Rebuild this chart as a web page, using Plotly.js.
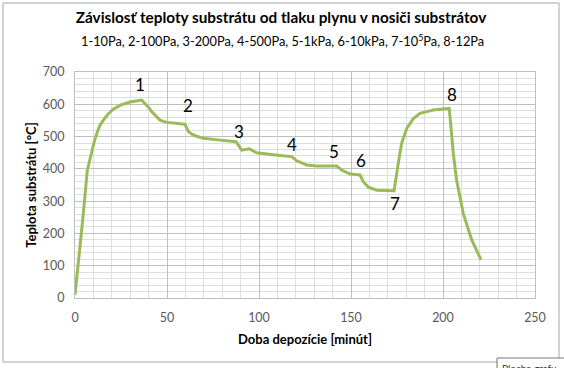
<!DOCTYPE html>
<html>
<head>
<meta charset="utf-8">
<script src="https://cdn.plot.ly/plotly-3.0.1.min.js"></script>
<style>
html,body{margin:0;padding:0;background:#fff;}
#chart{width:564px;height:368px;}
</style>
</head>
<body>
<div id="chart"></div>
<script>
// Time of deposition [minutes]
const time = [0, 2.7, 4.2, 6.7, 8, 9, 10.5, 12, 13.6, 15.4, 18, 20.8, 25, 29.9, 36.2, 39.8, 41.7, 46.2, 49.8, 55, 59.8,
  61.6, 64, 66.1, 69.7, 78.8, 87.5, 90.6, 94.7, 98.7, 102.3, 110, 117.8, 120.5, 125.9, 131.3, 142.2,
  145, 149.5, 154.9, 156.7, 159.4, 164, 173.4, 175.7, 177.5, 180.3, 183.9, 187.5, 194.7, 203.4,
  205.6, 207.4, 211, 215.6, 220.7];
// Substrate temperature [°C]
const temp = [10, 150, 242, 396, 428, 452, 485, 512, 535, 551, 570, 585, 598, 607, 613, 592, 577, 551, 544, 541, 538,
  516, 506, 501, 495, 489, 484, 458, 462, 450, 447, 442, 438, 425, 412, 409, 409,
  396, 384, 381, 360, 343, 334, 332, 417, 479, 525, 556, 572, 582, 587,
  448, 365, 262, 180, 118];
// Pressure step markers
const labelText = ["1", "2", "3", "4", "5", "6", "7", "8"];
const labelX = [35.3, 61.4, 89, 118, 141, 155.4, 174, 205];
const labelY = [660, 595, 517, 474, 455, 427, 294, 629];

const titleText = "Závislosť teploty substrátu od tlaku plynu v nosiči substrátov";
const subtitleText = "1-10Pa, 2-100Pa, 3-200Pa, 4-500Pa, 5-1kPa, 6-10kPa, 7-10<sup>5</sup>Pa, 8-12Pa";
const xTitle = "Doba depozície [minút]";
const yTitle = "Teplota substrátu [°C]";

const FONT = "Lato, 'Open Sans', sans-serif";

const annotations = labelText.map((t, i) => ({
  x: labelX[i], y: labelY[i], xref: 'x', yref: 'y', text: t, showarrow: false,
  xanchor: 'center', yanchor: 'middle',
  font: {family: FONT, size: 17, color: '#000'}
}));
annotations.push({
  xref: 'paper', yref: 'paper', x: (282 - 75) / 460, y: (298 - 41) / 226,
  xanchor: 'center', yanchor: 'middle',
  text: subtitleText, showarrow: false, font: {family: FONT, size: 12.8, color: '#000'}
});
annotations.push({
  xref: 'paper', yref: 'paper', x: (500 - 75) / 460, y: (298 - 360) / 226, xanchor: 'left', yanchor: 'top',
  text: 'Plocha grafu', showarrow: false, font: {family: FONT, size: 10, color: '#333'}
});

const shapes = [
  {type: 'rect', xref: 'paper', yref: 'paper',
   x0: (3 - 75) / 460, x1: (559 - 75) / 460, y0: (298 - 362) / 226, y1: (298 - 3) / 226,
   line: {color: '#a6a6a6', width: 1}, fillcolor: 'rgba(0,0,0,0)', layer: 'below'},
  {type: 'rect', xref: 'paper', yref: 'paper',
   x0: (497 - 75) / 460, x1: (600 - 75) / 460, y0: (298 - 380) / 226, y1: (298 - 358) / 226,
   line: {color: '#767676', width: 1}, fillcolor: '#ffffff'}
];

const data = [{
  x: time, y: temp, type: 'scatter', mode: 'lines',
  line: {color: '#9bbb59', width: 3},
  hoverinfo: 'skip'
}];

const gridMajor = '#bfbfbf';
const gridMinor = '#dedede';

const layout = {
  width: 564, height: 368,
  margin: {l: 75, r: 29, t: 72, b: 70},
  paper_bgcolor: '#fff', plot_bgcolor: '#fff',
  showlegend: false,
  font: {family: FONT, color: '#595959'},
  title: {
    text: '<b>' + titleText + '</b>',
    xref: 'container', yref: 'container', x: 281 / 564, y: 1 - 18 / 368,
    xanchor: 'center', yanchor: 'middle',
    font: {family: FONT, size: 15.3, color: '#000'}
  },
  xaxis: {
    range: [0, 250], dtick: 50, tick0: 0, showgrid: true, gridcolor: gridMajor, gridwidth: 1,
    minor: {dtick: 10, showgrid: true, gridcolor: gridMinor, gridwidth: 1},
    zeroline: false, showline: true, linecolor: gridMajor, mirror: true,
    ticks: '', ticklabelstandoff: 8,
    tickfont: {family: FONT, size: 12.5, color: '#595959'},
    title: {text: '<b>' + xTitle + '</b>', standoff: 10, font: {family: FONT, size: 13, color: '#000'}},
    fixedrange: true
  },
  yaxis: {
    range: [0, 700], dtick: 100, tick0: 0, showgrid: true, gridcolor: gridMajor, gridwidth: 1,
    minor: {dtick: 20, showgrid: true, gridcolor: gridMinor, gridwidth: 1},
    zeroline: false, showline: true, linecolor: gridMajor, mirror: true,
    ticks: '', ticklabelstandoff: 7,
    tickfont: {family: FONT, size: 12.5, color: '#595959'},
    title: {text: '<b>' + yTitle + '</b>', standoff: 3, font: {family: FONT, size: 13, color: '#000'}},
    fixedrange: true
  },
  annotations: annotations,
  shapes: shapes
};

Plotly.newPlot('chart', data, layout, {displayModeBar: false, staticPlot: true});
</script>
</body>
</html>
